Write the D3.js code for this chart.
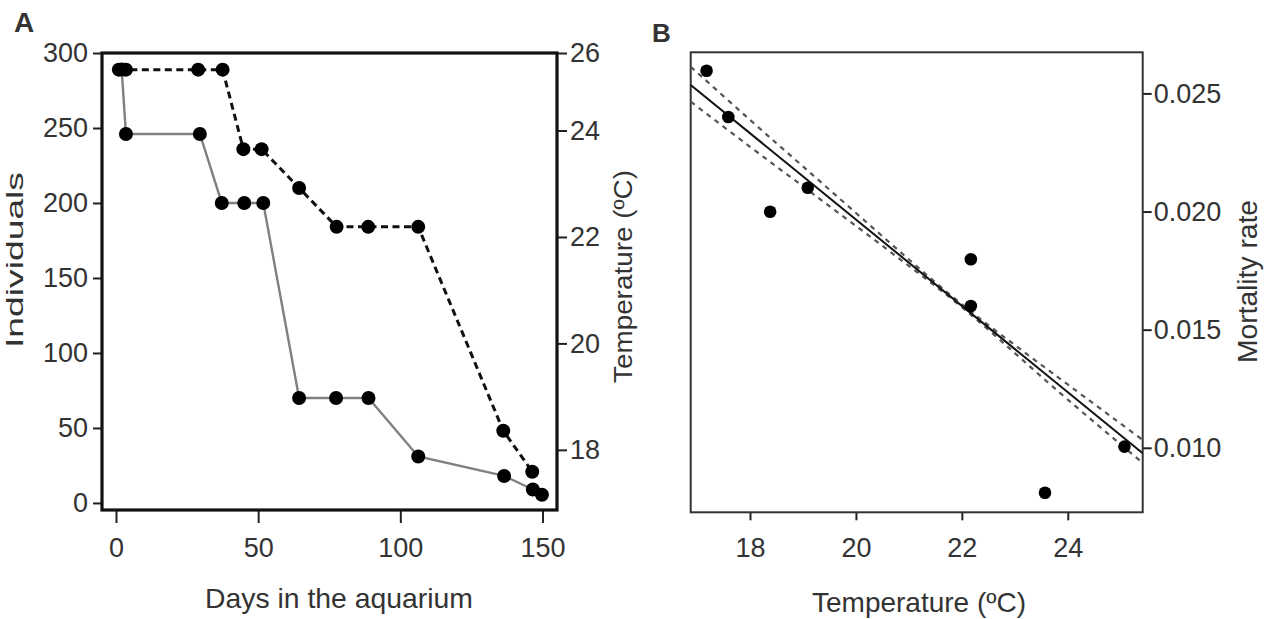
<!DOCTYPE html>
<html>
<head>
<meta charset="utf-8">
<script src="https://d3js.org/d3.v7.min.js"></script>
<style>
  html, body { margin: 0; padding: 0; background: #fff; }
  svg text { font-family: "Liberation Sans", Arial, sans-serif; fill: #333; }
</style>
</head>
<body>
<svg id="chart" width="1270" height="619"></svg>
<script>
// ---------- Panel A data ----------
const indivDays = [2, 3.5, 29.5, 37.2, 45.1, 51.8, 64.4, 77.4, 88.8, 106.3, 136.5, 146.6, 149.8];
const indivValues = [289, 246, 246, 200, 200, 200, 70, 70, 70, 31, 18, 9, 5.5];
const tempDays = [1, 3.5, 28.9, 37.5, 44.8, 51.2, 64.4, 77.6, 88.7, 106.3, 136.2, 146.4];
const tempValues = [25.57, 25.57, 25.57, 25.57, 23.65, 23.65, 22.92, 22.19, 22.19, 22.19, 18.36, 17.59];
const dayTicks = [0, 50, 100, 150];
const indivTicks = [0, 50, 100, 150, 200, 250, 300];
const tempTicks = [18, 20, 22, 24, 26];

// ---------- Panel B data ----------
const bTemp = [17.18, 17.59, 18.38, 19.09, 22.17, 22.17, 23.57, 25.07];
const bMort = [0.02596, 0.0240, 0.01999, 0.02101, 0.01798, 0.0160, 0.0081, 0.01005];
const fitTemp = [16.88, 18, 19, 20, 21, 22, 23, 24, 25.415];
const fitMort = [0.02536, 0.02331, 0.02149, 0.01966, 0.01783, 0.01601, 0.01418, 0.01236, 0.00977];
const ciUpper = [0.02613, 0.02388, 0.02191, 0.01994, 0.01797, 0.01607, 0.01435, 0.01268, 0.01033];
const ciLower = [0.02465, 0.02274, 0.02107, 0.01939, 0.01770, 0.01595, 0.01401, 0.01204, 0.00936];
const bTempTicks = [18, 20, 22, 24];
const bMortTicks = [0.010, 0.015, 0.020, 0.025];

const svg = d3.select("#chart");
const FS = 27;
const TXT = "#333";

function styleAxis(g, size) {
  g.select(".domain").remove();
  g.selectAll(".tick line").attr("stroke", "#222").attr("stroke-width", 2);
  g.selectAll(".tick text").style("font-size", size + "px").attr("fill", TXT);
}

// ================= Panel A =================
const A = { l: 102, t: 53, r: 557, b: 510 };
const xA = d3.scaleLinear().domain([-4.92, 155.1]).range([A.l, A.r]);
const yInd = d3.scaleLinear().domain([-4.7, 300]).range([A.b, A.t]);
const yTemp = d3.scaleLinear().domain([16.87, 24, 26]).range([A.b, 130.5, A.t]);

svg.append("g").attr("transform", `translate(${A.l},0)`)
  .call(d3.axisLeft(yInd).tickValues(indivTicks).tickSize(9).tickPadding(5))
  .call(g => styleAxis(g, FS));
svg.append("g").attr("transform", `translate(0,${A.b})`)
  .call(d3.axisBottom(xA).tickValues(dayTicks).tickSize(13).tickPadding(15))
  .call(g => styleAxis(g, FS));
svg.append("g").attr("transform", `translate(${A.r},0)`)
  .call(d3.axisRight(yTemp).tickValues(tempTicks).tickSize(10).tickPadding(3))
  .call(g => styleAxis(g, FS));

svg.append("rect").attr("x", A.l).attr("y", A.t)
  .attr("width", A.r - A.l).attr("height", A.b - A.t)
  .attr("fill", "none").attr("stroke", "#111").attr("stroke-width", 3.2);

const indivPts = indivDays.map((d, i) => [d, indivValues[i]]);
const tempPts = tempDays.map((d, i) => [d, tempValues[i]]);
svg.append("path").datum(indivPts)
  .attr("d", d3.line().x(d => xA(d[0])).y(d => yInd(d[1])))
  .attr("fill", "none").attr("stroke", "#808080").attr("stroke-width", 2.4);
svg.append("path").datum(tempPts)
  .attr("d", d3.line().x(d => xA(d[0])).y(d => yTemp(d[1])))
  .attr("fill", "none").attr("stroke", "#111").attr("stroke-width", 3)
  .attr("stroke-dasharray", "7,4.5");
svg.append("g").selectAll("circle").data(indivPts).join("circle")
  .attr("cx", d => xA(d[0])).attr("cy", d => yInd(d[1])).attr("r", 7).attr("fill", "#000");
svg.append("g").selectAll("circle").data(tempPts).join("circle")
  .attr("cx", d => xA(d[0])).attr("cy", d => yTemp(d[1])).attr("r", 7).attr("fill", "#000");

svg.append("text").attr("x", 14).attr("y", 32).text("A")
  .style("font-size", "28px").style("font-weight", "bold").attr("fill", "#111");
svg.append("text").attr("transform", "translate(23,260) rotate(-90)")
  .attr("text-anchor", "middle").style("font-size", "24px")
  .attr("textLength", 176).attr("lengthAdjust", "spacingAndGlyphs").text("Individuals");
svg.append("text").attr("x", 339).attr("y", 608)
  .attr("text-anchor", "middle").style("font-size", "28px")
  .attr("textLength", 268).attr("lengthAdjust", "spacingAndGlyphs").text("Days in the aquarium");
svg.append("text").attr("transform", "translate(632,276.5) rotate(-90)")
  .attr("text-anchor", "middle").style("font-size", "26px")
  .attr("textLength", 213).attr("lengthAdjust", "spacingAndGlyphs").text("Temperature (ºC)");

// ================= Panel B =================
const B = { l: 690.7, t: 52.3, r: 1142.7, b: 512.3 };
const xB = d3.scaleLinear().domain([16.88, 25.415]).range([B.l, B.r]);
const yB = d3.scaleLinear().domain([0.00727, 0.02674]).range([B.b, B.t]);

svg.append("g").attr("transform", `translate(0,${B.b})`)
  .call(d3.axisBottom(xB).tickValues(bTempTicks).tickSize(8).tickPadding(18))
  .call(g => styleAxis(g, FS));
svg.append("g").attr("transform", `translate(${B.r},0)`)
  .call(d3.axisRight(yB).tickValues(bMortTicks).tickFormat(d3.format(".3f")).tickSize(9).tickPadding(2))
  .call(g => styleAxis(g, FS));

svg.append("rect").attr("x", B.l).attr("y", B.t)
  .attr("width", B.r - B.l).attr("height", B.b - B.t)
  .attr("fill", "none").attr("stroke", "#333").attr("stroke-width", 2);

const lineB = d3.line().x(d => xB(d[0])).y(d => yB(d[1])).curve(d3.curveNatural);
svg.append("path").datum(fitTemp.map((t, i) => [t, ciUpper[i]]))
  .attr("d", lineB).attr("fill", "none").attr("stroke", "#555")
  .attr("stroke-width", 2.2).attr("stroke-dasharray", "5,5");
svg.append("path").datum(fitTemp.map((t, i) => [t, ciLower[i]]))
  .attr("d", lineB).attr("fill", "none").attr("stroke", "#555")
  .attr("stroke-width", 2.2).attr("stroke-dasharray", "5,5");
svg.append("path").datum([[fitTemp[0], fitMort[0]], [fitTemp[fitTemp.length - 1], fitMort[fitMort.length - 1]]])
  .attr("d", d3.line().x(d => xB(d[0])).y(d => yB(d[1])))
  .attr("fill", "none").attr("stroke", "#111").attr("stroke-width", 2);

svg.append("g").selectAll("circle").data(bTemp.map((t, i) => [t, bMort[i]])).join("circle")
  .attr("cx", d => xB(d[0])).attr("cy", d => yB(d[1])).attr("r", 6.3).attr("fill", "#000");

svg.append("text").attr("x", 652).attr("y", 42).text("B")
  .style("font-size", "26px").style("font-weight", "bold").attr("fill", "#111");
svg.append("text").attr("x", 919).attr("y", 612)
  .attr("text-anchor", "middle").style("font-size", "28px")
  .attr("textLength", 214).attr("lengthAdjust", "spacingAndGlyphs").text("Temperature (ºC)");
svg.append("text").attr("transform", "translate(1257,281.5) rotate(-90)")
  .attr("text-anchor", "middle").style("font-size", "27px")
  .attr("textLength", 163).attr("lengthAdjust", "spacingAndGlyphs").text("Mortality rate");
</script>
</body>
</html>
